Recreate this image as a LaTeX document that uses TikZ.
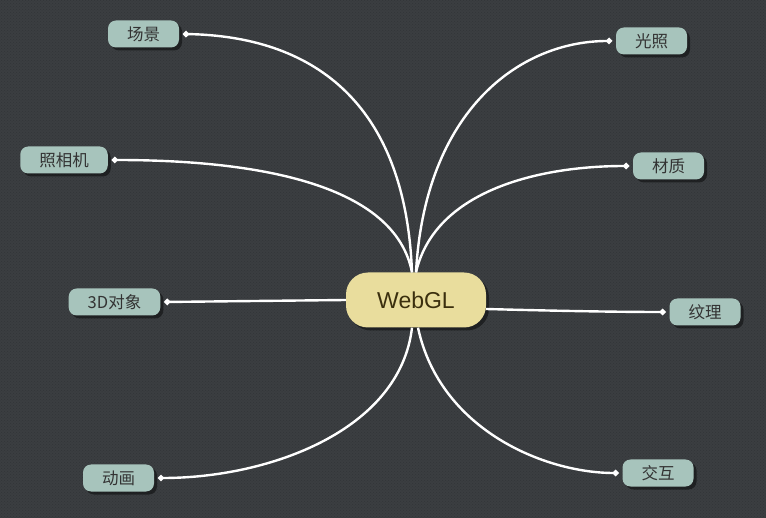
\documentclass[tikz,border=0pt]{standalone}
\usepackage{fontspec}
\setmainfont{Liberation Sans}
\newfontfamily\cjk{Noto Sans CJK SC}
\usetikzlibrary{arrows.meta,shadows,patterns}
\definecolor{bgc}{HTML}{3B3E41}
\definecolor{bgdot}{HTML}{323538}
\definecolor{leaffill}{HTML}{A7C4BC}
\definecolor{leaftext}{HTML}{333333}
\definecolor{rootfill}{HTML}{E9DD9D}
\definecolor{roottext}{HTML}{3B2F0E}
\tikzset{
  leaf/.style={draw=none, fill=leaffill, rounded corners=8pt, inner xsep=19pt, inner ysep=0pt,
    minimum height=27pt, text=leaftext, font=\cjk\fontsize{16.5pt}{18pt}\selectfont,
    outer sep=4pt,
    drop shadow={shadow xshift=3pt, shadow yshift=-3pt, fill=black, opacity=0.45}},
  root/.style={draw=none, fill=rootfill, rounded corners=22pt, minimum width=140pt, minimum height=55pt,
    text=roottext, font=\fontsize{23pt}{26pt}\selectfont,
    drop shadow={shadow xshift=3pt, shadow yshift=-3pt, fill=black, opacity=0.45}},
  link/.style={draw=white, line width=2.4pt, -{Circle[length=6pt]}}
}
\begin{document}
\begin{tikzpicture}[x=1pt,y=-1pt]
\fill[bgc] (0,0) rectangle (766,518);
\fill[pattern=crosshatch dots, pattern color=bgdot] (0,0) rectangle (766,518);
\useasboundingbox (0,0) rectangle (766,518);

\node[root] (web) at (416,300) {WebGL};

\node[leaf] (scene) at (143.5,34) {场景};
\node[leaf] (camera) at (64,160) {照相机};
\node[leaf] (obj) at (114.5,302) {3D对象};
\node[leaf] (anim) at (118.5,478) {动画};
\node[leaf] (light) at (651.5,41) {光照};
\node[leaf] (mat) at (668.5,166) {材质};
\node[leaf] (tex) at (705,312) {纹理};
\node[leaf] (inter) at (658,473) {交互};

\draw[link] ([xshift=-4pt]web.north) .. controls (405,90) and (300,36) .. (scene.east);
\draw[link] ([xshift=-4pt]web.north) .. controls (395,185) and (260,160) .. (camera.east);
\draw[link] (web.west) -- (obj.east);
\draw[link] ([xshift=-4pt]web.south) .. controls (400,430) and (270,478) .. (anim.east);
\draw[link] ([xshift=0pt]web.north) .. controls (425,110) and (520,41) .. (light.west);
\draw[link] ([xshift=0pt]web.north) .. controls (435,190) and (540,166) .. (mat.west);
\draw[link] ([yshift=-9pt]web.east) .. controls (560,311) and (620,312) .. (tex.west);
\draw[link] ([xshift=2pt]web.south) .. controls (440,430) and (545,473) .. (inter.west);
\end{tikzpicture}
\end{document}
